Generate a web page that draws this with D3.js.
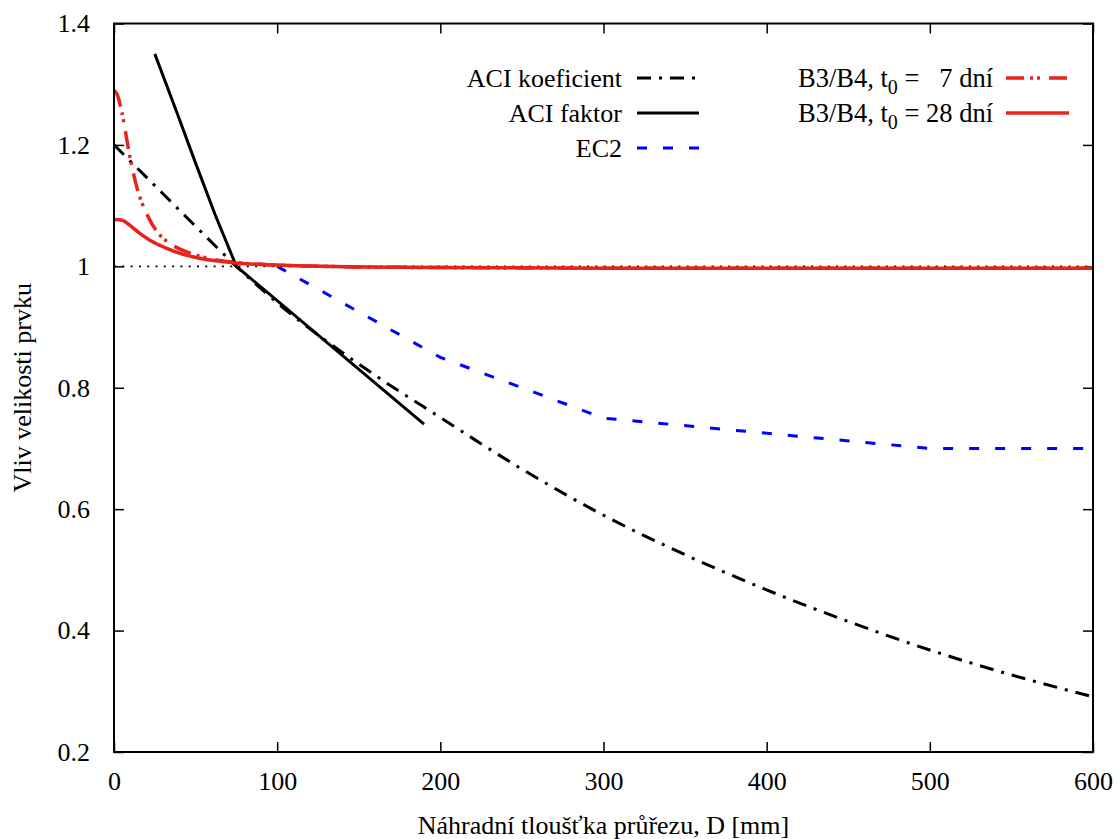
<!DOCTYPE html>
<html>
<head>
<meta charset="utf-8">
<script src="https://cdn.jsdelivr.net/npm/d3@7"></script>
<style>
  body { margin: 0; background: #fff; }
  svg text { font-family: "Liberation Serif", "Times New Roman", serif; fill: #000; }
</style>
</head>
<body>
<div id="chart"></div>
<script>
// hodnoty: [D (mm), vliv]
var aciKoeficient = [[0,1.2],[25,1.133],[50,1.066],[75,1.0],[100,0.94],[150,0.839],[200,0.751],[250,0.666],
  [300,0.59],[350,0.525],[400,0.467],[450,0.415],[500,0.368],[550,0.327],[600,0.291]];
var aciFaktor = [[25,1.35],[39,1.25],[50,1.17],[62,1.085],[75,1.0],[190,0.74]];
var ec2 = [[100,1.0],[200,0.85],[300,0.75],[500,0.70],[600,0.70]];
var b3t7 = [[0,1.29],[2,1.283],[4.7,1.255],[9.8,1.18],[14,1.13],[20,1.087],[27,1.055],[34,1.038],
  [44.5,1.024],[55,1.015],[73,1.007],[100,1.002],[150,0.999],[200,0.998],[300,0.997],[400,0.997],[500,0.997],[600,0.997]];
var b3t28 = [[0,1.077],[5,1.076],[10,1.067],[15,1.056],[22,1.043],[32,1.03],[42,1.02],[53,1.013],
  [73,1.006],[100,1.002],[150,0.999],[200,0.998],[300,0.997],[400,0.997],[500,0.997],[600,0.997]];

var xTicks = [0,100,200,300,400,500,600];
var yTicks = [0.2,0.4,0.6,0.8,1,1.2,1.4];

function draw() {
  var width = 1120, height = 839;
  var pLeft = 114, pRight = 1093, pTop = 23.5, pBottom = 752;

  var svg = d3.select("#chart").append("svg")
    .attr("width", width)
    .attr("height", height);

  var x = d3.scaleLinear().domain([0, 600]).range([pLeft, pRight]);
  var y = d3.scaleLinear().domain([0.2, 1.4]).range([pBottom, pTop]);

  var fmt = d3.format("~g");

  // osy - tiky dovnitr na vsech ctyrech stranach
  svg.append("g").attr("transform", "translate(0," + pBottom + ")")
    .call(d3.axisBottom(x).tickValues(xTicks).tickSizeInner(-10).tickSizeOuter(0).tickPadding(20).tickFormat(fmt));
  svg.append("g").attr("transform", "translate(0," + pTop + ")")
    .call(d3.axisTop(x).tickValues(xTicks).tickSizeInner(-10).tickSizeOuter(0).tickFormat(""));
  svg.append("g").attr("transform", "translate(" + pLeft + ",0)")
    .call(d3.axisLeft(y).tickValues(yTicks).tickSizeInner(-10).tickSizeOuter(0).tickPadding(24).tickFormat(fmt));
  svg.append("g").attr("transform", "translate(" + pRight + ",0)")
    .call(d3.axisRight(y).tickValues(yTicks).tickSizeInner(-10).tickSizeOuter(0).tickFormat(""));

  svg.selectAll(".domain").remove();
  svg.selectAll(".tick line").attr("stroke", "#000").attr("stroke-width", 1.5);
  svg.selectAll(".tick text").style("font-size", "26px").attr("fill", "#000");

  // vodorovna teckovana cara v 1
  svg.append("line")
    .attr("x1", x(0)).attr("x2", x(600))
    .attr("y1", y(1)).attr("y2", y(1))
    .attr("stroke", "#000").attr("stroke-width", 1.6)
    .attr("stroke-dasharray", "2,6.3");

  var series = [
    { data: aciKoeficient, color: "#000", w: 3, dash: "14,8,3,8", curve: d3.curveMonotoneX },
    { data: aciFaktor, color: "#000", w: 3, dash: null, curve: d3.curveLinear },
    { data: ec2, color: "#0000ff", w: 3, dash: "10,16", curve: d3.curveLinear },
    { data: b3t7, color: "#e8231b", w: 3.5, dash: "18,6,3,4,3,9", curve: d3.curveMonotoneX },
    { data: b3t28, color: "#e8231b", w: 3.5, dash: null, curve: d3.curveMonotoneX }
  ];

  svg.append("clipPath").attr("id", "plotclip")
    .append("rect").attr("x", pLeft).attr("y", pTop).attr("width", pRight - pLeft).attr("height", pBottom - pTop);

  series.forEach(function(s) {
    var line = d3.line().x(function(d){ return x(d[0]); }).y(function(d){ return y(d[1]); }).curve(s.curve);
    svg.append("path")
      .datum(s.data)
      .attr("clip-path", "url(#plotclip)")
      .attr("fill", "none")
      .attr("stroke", s.color)
      .attr("stroke-width", s.w)
      .attr("stroke-dasharray", s.dash)
      .attr("d", line);
  });

  // ramecek
  svg.append("rect")
    .attr("x", pLeft).attr("y", pTop)
    .attr("width", pRight - pLeft).attr("height", pBottom - pTop)
    .attr("fill", "none").attr("stroke", "#000").attr("stroke-width", 2);

  // legenda
  var legLeft = [
    { label: "ACI koeficient", s: series[0], y: 78 },
    { label: "ACI faktor", s: series[1], y: 113 },
    { label: "EC2", s: series[2], y: 148 }
  ];
  legLeft.forEach(function(l) {
    svg.append("text").attr("x", 622).attr("y", l.y + 8.5).attr("text-anchor", "end")
      .style("font-size", "26px").text(l.label);
    svg.append("line").attr("x1", 637).attr("x2", 699).attr("y1", l.y).attr("y2", l.y)
      .attr("stroke", l.s.color).attr("stroke-width", l.s.w).attr("stroke-dasharray", l.s.dash);
  });

  var legRight = [
    { pre: "B3/B4, t", post: " = \u20077 dní", s: series[3], y: 78 },
    { pre: "B3/B4, t", post: " = 28 dní", s: series[4], y: 113 }
  ];
  legRight.forEach(function(l) {
    var t = svg.append("text").attr("x", 993).attr("y", l.y + 8.5).attr("text-anchor", "end")
      .style("font-size", "26.5px").style("white-space", "pre");
    t.append("tspan").text(l.pre);
    t.append("tspan").attr("dy", 7).style("font-size", "20px").text("0");
    t.append("tspan").attr("dy", -7).text(l.post);
    svg.append("line").attr("x1", 1006).attr("x2", 1069).attr("y1", l.y).attr("y2", l.y)
      .attr("stroke", l.s.color).attr("stroke-width", l.s.w).attr("stroke-dasharray", l.s.dash);
  });

  // popisky os
  svg.append("text").attr("x", (pLeft + pRight) / 2).attr("y", 834).attr("text-anchor", "middle")
    .style("font-size", "26px").text("Náhradní tloušťka průřezu, D [mm]");
  svg.append("text").attr("transform", "translate(31," + ((pTop + pBottom) / 2) + ") rotate(-90)")
    .attr("text-anchor", "middle")
    .style("font-size", "26px").text("Vliv velikosti prvku");
}

draw();
</script>
</body>
</html>
